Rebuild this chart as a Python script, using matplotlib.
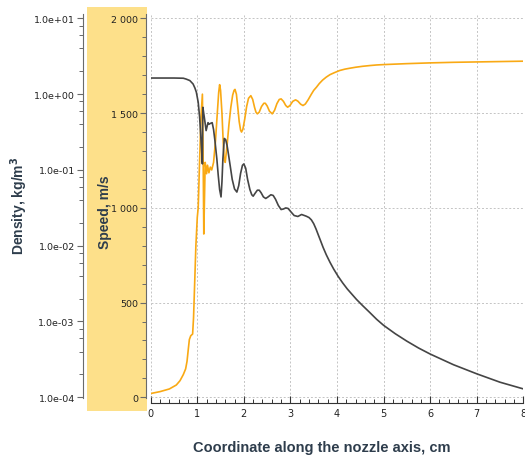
import matplotlib
matplotlib.use("Agg")
import matplotlib.pyplot as plt
from matplotlib.patches import Rectangle
from matplotlib.ticker import MultipleLocator, FixedLocator, FuncFormatter, LogLocator, NullFormatter

# speed along the nozzle axis (cm, m/s)
x_speed = [0.00, 0.20, 0.40, 0.55, 0.63, 0.70, 0.75, 0.78, 0.81, 0.83, 0.86, 0.90,
           0.92, 0.94, 0.97, 1.00, 1.02, 1.05, 1.08, 1.11, 1.125, 1.14, 1.155, 1.17,
           1.20, 1.22, 1.25, 1.28, 1.31, 1.35, 1.39, 1.43, 1.46, 1.48, 1.50, 1.53,
           1.56, 1.58, 1.60, 1.64, 1.68, 1.72, 1.76, 1.79, 1.81, 1.84, 1.87, 1.90,
           1.93, 1.95, 1.98, 2.02, 2.06, 2.10, 2.15, 2.19, 2.23, 2.26, 2.29, 2.33,
           2.38, 2.43, 2.46, 2.50, 2.55, 2.61, 2.66, 2.71, 2.76, 2.80, 2.85, 2.90,
           2.94, 2.99, 3.05, 3.11, 3.16, 3.22, 3.27, 3.32, 3.38, 3.45, 3.50, 3.56,
           3.62, 3.69, 3.77, 3.85, 3.95, 4.06, 4.17, 4.28, 4.40, 4.55, 4.71, 4.85,
           5.00, 5.50, 6.00, 6.50, 7.00, 7.50, 8.00]
speed = [20, 30, 44, 65, 88, 120, 150, 190, 260, 305, 325, 334,
         420, 572, 800, 950, 1000, 1250, 1480, 1600, 1300, 862, 1050, 1240,
         1180, 1225, 1185, 1215, 1200, 1240, 1350, 1500, 1610, 1650, 1620, 1500,
         1330, 1250, 1240, 1330, 1440, 1530, 1595, 1620, 1625, 1600, 1530, 1455,
         1410, 1400, 1415, 1470, 1535, 1578, 1592, 1572, 1530, 1505, 1496, 1505,
         1535, 1552, 1552, 1538, 1510, 1496, 1515, 1550, 1572, 1575, 1562, 1540,
         1531, 1540, 1562, 1570, 1563, 1547, 1540, 1548, 1570, 1600, 1620, 1637,
         1656, 1674, 1690, 1703, 1714, 1725, 1732, 1737, 1742, 1747, 1751, 1754,
         1756, 1761, 1765, 1768, 1770, 1772, 1774]

# density along the nozzle axis (cm, kg/m3)
x_dens = [0.00, 0.50, 0.70, 0.76, 0.84, 0.91, 0.95, 0.98, 1.02, 1.05, 1.08, 1.11,
          1.115, 1.12, 1.15, 1.19, 1.23, 1.25, 1.28, 1.32, 1.35, 1.38, 1.42, 1.45,
          1.48, 1.51, 1.53, 1.55, 1.58, 1.61, 1.64, 1.67, 1.71, 1.75, 1.80, 1.85,
          1.89, 1.93, 1.97, 2.00, 2.04, 2.08, 2.13, 2.17, 2.20, 2.24, 2.29, 2.33,
          2.37, 2.42, 2.47, 2.52, 2.58, 2.63, 2.68, 2.74, 2.80, 2.85, 2.90, 2.95,
          3.01, 3.08, 3.16, 3.24, 3.34, 3.40, 3.45, 3.50, 3.55, 3.60, 3.65, 3.70,
          3.77, 3.85, 3.93, 4.02, 4.12, 4.22, 4.32, 4.42, 4.55, 4.70, 4.85, 5.00,
          5.25, 5.50, 5.75, 6.00, 6.50, 7.00, 7.50, 8.00]
density = [1.63, 1.63, 1.62, 1.58, 1.51, 1.36, 1.2, 1.06, 0.78, 0.5, 0.25, 0.12,
           0.4, 0.67, 0.5, 0.33, 0.42, 0.40, 0.41, 0.42, 0.34, 0.24, 0.14, 0.085,
           0.055, 0.044, 0.07, 0.14, 0.26, 0.25, 0.21, 0.16, 0.11, 0.075, 0.056, 0.051,
           0.062, 0.09, 0.115, 0.12, 0.105, 0.075, 0.055, 0.047, 0.045, 0.049, 0.054, 0.054,
           0.05, 0.044, 0.042, 0.044, 0.047, 0.046, 0.041, 0.034, 0.030, 0.0305, 0.0315, 0.031,
           0.028, 0.025, 0.0243, 0.0258, 0.0245, 0.0235, 0.0219, 0.0195, 0.0166, 0.0138, 0.0115, 0.00955,
           0.00759, 0.00603, 0.0049, 0.00398, 0.00324, 0.00269, 0.00229, 0.00195, 0.00162, 0.00132, 0.00107, 0.00089,
           0.00069, 0.00055, 0.000447, 0.000372, 0.000269, 0.000204, 0.000158, 0.000129]

orange = "#f9a914"
dark = "#454545"
label_col = "#2e3d4c"
axis_col = "#6a6a6a"

fig = plt.figure(figsize=(5.25, 4.56), dpi=100)
ax = fig.add_axes([150.7 / 525, 57.5 / 456, 372.6 / 525, 383.5 / 456])

# highlighted speed axis band, behind the axes
fig.patches.append(Rectangle((87 / 525, 44.3 / 456), 59.7 / 525, 403.4 / 456,
                             transform=fig.transFigure, facecolor="#fde08a",
                             edgecolor="none", zorder=-1))

ax.plot(x_speed, speed, color=orange, lw=1.2, zorder=3)
ax.set_xlim(0, 8)
ax.set_ylim(-1, 2023)

ax.xaxis.set_major_locator(MultipleLocator(1))
ax.xaxis.set_minor_locator(MultipleLocator(0.2))
ax.yaxis.set_major_locator(FixedLocator([0, 500, 1000, 1500, 2000]))
ax.yaxis.set_minor_locator(MultipleLocator(100))
ax.yaxis.set_major_formatter(FuncFormatter(lambda v, p: f"{int(v):,}".replace(",", " ")))
ax.grid(True, which="major", color="#c4c4c4", linestyle=(0, (2, 2)), lw=0.7)

for s in ["top", "right"]:
    ax.spines[s].set_visible(False)
ax.spines["left"].set_position(("outward", 3.4))
ax.spines["bottom"].set_position(("outward", 3.6))
ax.spines["left"].set_color(axis_col)
ax.spines["bottom"].set_color("#333333")
ax.tick_params(axis="y", which="major", length=4, width=0.8, color=axis_col,
               labelsize=6.8, labelcolor="#222222", pad=1.5)
ax.tick_params(axis="y", which="minor", length=3, width=0.7, color=axis_col)
ax.tick_params(axis="x", which="major", direction="in", length=5, width=0.8,
               color="#333333", labelsize=7, labelcolor="#222222", pad=4)
ax.tick_params(axis="x", which="minor", direction="in", length=3, width=0.7, color="#333333")

# density axis on the far left
ax2 = ax.twinx()
ax2.plot(x_dens, density, color=dark, lw=1.2, zorder=4)
ax2.set_yscale("log")
ax2.set_ylim(10 ** -4.003, 10 ** 1.057)
ax2.yaxis.set_ticks_position("left")
ax2.yaxis.set_label_position("left")
ax2.yaxis.set_major_locator(FixedLocator([1e-4, 1e-3, 1e-2, 1e-1, 1e0, 1e1]))
ax2.yaxis.set_minor_locator(LogLocator(base=10, subs=[2, 4, 6, 8]))
ax2.yaxis.set_minor_formatter(NullFormatter())
ax2.yaxis.set_major_formatter(FuncFormatter(lambda v, p: f"{v:.1e}"))
for s in ["top", "right", "bottom"]:
    ax2.spines[s].set_visible(False)
ax2.spines["left"].set_position(("outward", 48.7))
ax2.spines["left"].set_color(axis_col)
ax2.tick_params(axis="y", which="major", length=4.5, width=0.8, color=axis_col,
                labelsize=6.8, labelcolor="#222222", pad=1.5)
ax2.tick_params(axis="y", which="minor", length=3, width=0.7, color=axis_col)

lab = dict(family="Liberation Sans", fontweight="bold", fontsize=10, color=label_col)
fig.text(105 / 525, 1 - 212 / 456, "Speed, m/s", rotation=90, ha="center", va="center", **lab)
fig.text(19 / 525, 1 - 206 / 456, "Density, kg/m$^\\mathbf{3}$", rotation=90,
         ha="center", va="center", **lab)
fig.text(322 / 525, 1 - 448 / 456, "Coordinate along the nozzle axis, cm",
         ha="center", va="center", **dict(lab, fontsize=10.5))

fig.savefig("out.png", dpi=100)
